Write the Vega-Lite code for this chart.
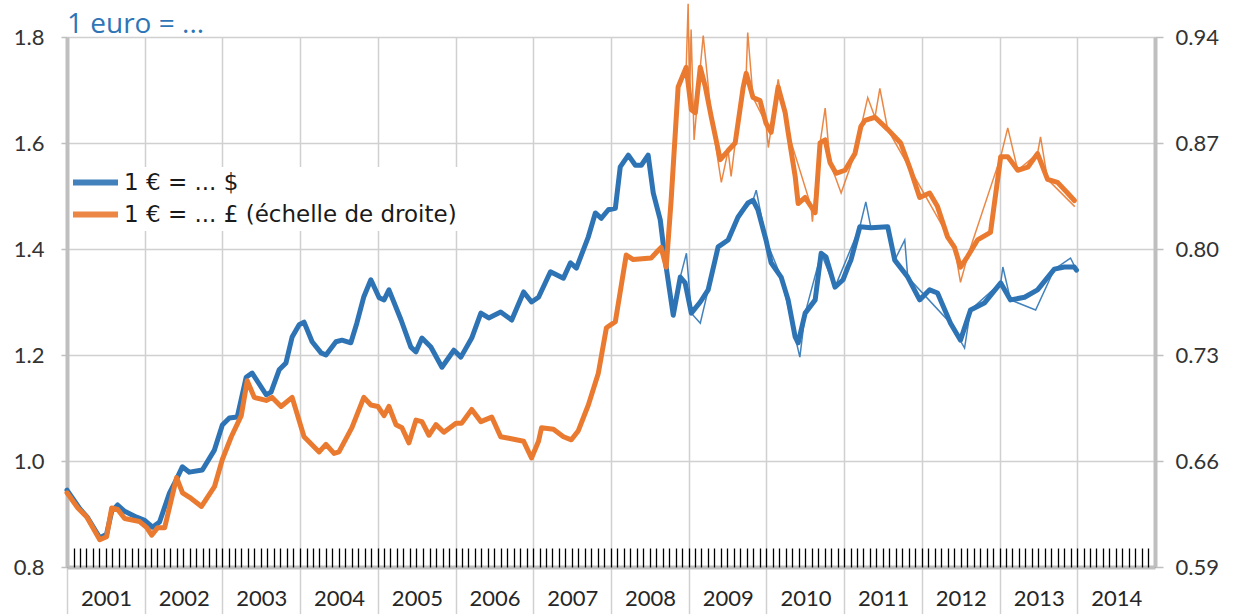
{
  "$schema": "https://vega.github.io/schema/vega-lite/v6.json",
  "width": 1088,
  "height": 530,
  "autosize": {"type": "none"},
  "padding": {"left": 67, "top": 37, "right": 80, "bottom": 47},
  "background": "white",
  "title": {"text": "1 euro = ...", "anchor": "start", "frame": "group", "color": "#2e75b6", "fontSize": 28, "fontWeight": "normal", "font": "Open Sans", "baseline": "alphabetic", "offset": -60},
  "config": {
    "view": {"stroke": null},
    "font": "Lato",
    "axis": {"labelFont": "Lato", "labelFontSize": 22, "labelColor": "#333333", "gridColor": "#d0d0d0", "gridWidth": 1.5, "domainColor": "#bfbfbf", "domainWidth": 4, "tickColor": "#bfbfbf", "tickWidth": 1.5, "title": null}
  },
  "datasets": {
    "moyenne": [
      {"date": "2001-01-01", "devise": "USD", "taux": 0.945},
      {"date": "2001-03-02", "devise": "USD", "taux": 0.91},
      {"date": "2001-04-08", "devise": "USD", "taux": 0.893},
      {"date": "2001-06-04", "devise": "USD", "taux": 0.855},
      {"date": "2001-07-06", "devise": "USD", "taux": 0.862},
      {"date": "2001-07-30", "devise": "USD", "taux": 0.905},
      {"date": "2001-08-27", "devise": "USD", "taux": 0.917},
      {"date": "2001-09-29", "devise": "USD", "taux": 0.905},
      {"date": "2001-11-24", "devise": "USD", "taux": 0.894},
      {"date": "2002-01-01", "devise": "USD", "taux": 0.888},
      {"date": "2002-02-07", "devise": "USD", "taux": 0.875},
      {"date": "2002-03-12", "devise": "USD", "taux": 0.885},
      {"date": "2002-04-28", "devise": "USD", "taux": 0.94},
      {"date": "2002-05-30", "devise": "USD", "taux": 0.965},
      {"date": "2002-06-27", "devise": "USD", "taux": 0.989},
      {"date": "2002-07-30", "devise": "USD", "taux": 0.979},
      {"date": "2002-09-29", "devise": "USD", "taux": 0.983},
      {"date": "2002-11-24", "devise": "USD", "taux": 1.02},
      {"date": "2003-01-01", "devise": "USD", "taux": 1.068},
      {"date": "2003-02-03", "devise": "USD", "taux": 1.081},
      {"date": "2003-03-12", "devise": "USD", "taux": 1.083},
      {"date": "2003-04-23", "devise": "USD", "taux": 1.158},
      {"date": "2003-05-21", "devise": "USD", "taux": 1.166},
      {"date": "2003-07-26", "devise": "USD", "taux": 1.125},
      {"date": "2003-08-18", "devise": "USD", "taux": 1.13},
      {"date": "2003-09-25", "devise": "USD", "taux": 1.172},
      {"date": "2003-10-27", "devise": "USD", "taux": 1.185},
      {"date": "2003-11-25", "devise": "USD", "taux": 1.234},
      {"date": "2003-12-28", "devise": "USD", "taux": 1.257},
      {"date": "2004-01-20", "devise": "USD", "taux": 1.262},
      {"date": "2004-02-27", "devise": "USD", "taux": 1.225},
      {"date": "2004-04-09", "devise": "USD", "taux": 1.204},
      {"date": "2004-05-02", "devise": "USD", "taux": 1.2},
      {"date": "2004-06-18", "devise": "USD", "taux": 1.225},
      {"date": "2004-07-16", "devise": "USD", "taux": 1.228},
      {"date": "2004-08-27", "devise": "USD", "taux": 1.223},
      {"date": "2004-09-24", "devise": "USD", "taux": 1.26},
      {"date": "2004-10-27", "devise": "USD", "taux": 1.31},
      {"date": "2004-11-29", "devise": "USD", "taux": 1.342},
      {"date": "2005-01-07", "devise": "USD", "taux": 1.308},
      {"date": "2005-01-30", "devise": "USD", "taux": 1.304},
      {"date": "2005-02-22", "devise": "USD", "taux": 1.323},
      {"date": "2005-04-20", "devise": "USD", "taux": 1.266},
      {"date": "2005-06-05", "devise": "USD", "taux": 1.215},
      {"date": "2005-06-29", "devise": "USD", "taux": 1.206},
      {"date": "2005-07-27", "devise": "USD", "taux": 1.232},
      {"date": "2005-09-07", "devise": "USD", "taux": 1.215},
      {"date": "2005-10-29", "devise": "USD", "taux": 1.177},
      {"date": "2005-12-24", "devise": "USD", "taux": 1.209},
      {"date": "2006-01-26", "devise": "USD", "taux": 1.196},
      {"date": "2006-03-18", "devise": "USD", "taux": 1.232},
      {"date": "2006-04-30", "devise": "USD", "taux": 1.279},
      {"date": "2006-06-06", "devise": "USD", "taux": 1.27},
      {"date": "2006-08-01", "devise": "USD", "taux": 1.281},
      {"date": "2006-09-22", "devise": "USD", "taux": 1.266},
      {"date": "2006-11-17", "devise": "USD", "taux": 1.319},
      {"date": "2006-12-24", "devise": "USD", "taux": 1.3},
      {"date": "2007-01-26", "devise": "USD", "taux": 1.309},
      {"date": "2007-03-23", "devise": "USD", "taux": 1.357},
      {"date": "2007-05-23", "devise": "USD", "taux": 1.345},
      {"date": "2007-06-25", "devise": "USD", "taux": 1.374},
      {"date": "2007-07-23", "devise": "USD", "taux": 1.364},
      {"date": "2007-09-17", "devise": "USD", "taux": 1.423},
      {"date": "2007-10-20", "devise": "USD", "taux": 1.468},
      {"date": "2007-11-17", "devise": "USD", "taux": 1.458},
      {"date": "2007-12-20", "devise": "USD", "taux": 1.474},
      {"date": "2008-01-22", "devise": "USD", "taux": 1.477},
      {"date": "2008-02-14", "devise": "USD", "taux": 1.555},
      {"date": "2008-03-23", "devise": "USD", "taux": 1.577},
      {"date": "2008-04-25", "devise": "USD", "taux": 1.558},
      {"date": "2008-05-23", "devise": "USD", "taux": 1.558},
      {"date": "2008-06-24", "devise": "USD", "taux": 1.577},
      {"date": "2008-07-18", "devise": "USD", "taux": 1.506},
      {"date": "2008-08-20", "devise": "USD", "taux": 1.455},
      {"date": "2008-09-12", "devise": "USD", "taux": 1.379},
      {"date": "2008-10-20", "devise": "USD", "taux": 1.275},
      {"date": "2008-11-22", "devise": "USD", "taux": 1.347},
      {"date": "2008-12-15", "devise": "USD", "taux": 1.336},
      {"date": "2009-01-13", "devise": "USD", "taux": 1.279},
      {"date": "2009-02-24", "devise": "USD", "taux": 1.3},
      {"date": "2009-04-02", "devise": "USD", "taux": 1.323},
      {"date": "2009-05-19", "devise": "USD", "taux": 1.404},
      {"date": "2009-07-05", "devise": "USD", "taux": 1.417},
      {"date": "2009-08-20", "devise": "USD", "taux": 1.46},
      {"date": "2009-10-06", "devise": "USD", "taux": 1.487},
      {"date": "2009-10-30", "devise": "USD", "taux": 1.492},
      {"date": "2009-11-22", "devise": "USD", "taux": 1.474},
      {"date": "2009-12-30", "devise": "USD", "taux": 1.417},
      {"date": "2010-01-23", "devise": "USD", "taux": 1.374},
      {"date": "2010-03-11", "devise": "USD", "taux": 1.347},
      {"date": "2010-04-13", "devise": "USD", "taux": 1.304},
      {"date": "2010-05-16", "devise": "USD", "taux": 1.234},
      {"date": "2010-05-30", "devise": "USD", "taux": 1.223},
      {"date": "2010-07-02", "devise": "USD", "taux": 1.279},
      {"date": "2010-08-18", "devise": "USD", "taux": 1.304},
      {"date": "2010-09-15", "devise": "USD", "taux": 1.392},
      {"date": "2010-10-08", "devise": "USD", "taux": 1.385},
      {"date": "2010-11-19", "devise": "USD", "taux": 1.328},
      {"date": "2010-12-27", "devise": "USD", "taux": 1.342},
      {"date": "2011-01-19", "devise": "USD", "taux": 1.366},
      {"date": "2011-02-02", "devise": "USD", "taux": 1.379},
      {"date": "2011-03-16", "devise": "USD", "taux": 1.442},
      {"date": "2011-05-07", "devise": "USD", "taux": 1.44},
      {"date": "2011-07-25", "devise": "USD", "taux": 1.442},
      {"date": "2011-08-27", "devise": "USD", "taux": 1.379},
      {"date": "2011-10-27", "devise": "USD", "taux": 1.347},
      {"date": "2011-12-22", "devise": "USD", "taux": 1.304},
      {"date": "2012-02-07", "devise": "USD", "taux": 1.323},
      {"date": "2012-03-15", "devise": "USD", "taux": 1.317},
      {"date": "2012-05-15", "devise": "USD", "taux": 1.26},
      {"date": "2012-07-01", "devise": "USD", "taux": 1.228},
      {"date": "2012-08-17", "devise": "USD", "taux": 1.285},
      {"date": "2012-10-21", "devise": "USD", "taux": 1.298},
      {"date": "2013-01-06", "devise": "USD", "taux": 1.336},
      {"date": "2013-02-21", "devise": "USD", "taux": 1.304},
      {"date": "2013-04-28", "devise": "USD", "taux": 1.309},
      {"date": "2013-06-28", "devise": "USD", "taux": 1.323},
      {"date": "2013-09-15", "devise": "USD", "taux": 1.362},
      {"date": "2013-11-01", "devise": "USD", "taux": 1.366},
      {"date": "2013-12-18", "devise": "USD", "taux": 1.366},
      {"date": "2013-12-28", "devise": "USD", "taux": 1.36},
      {"date": "2001-01-01", "devise": "GBP", "taux": 0.639},
      {"date": "2001-02-21", "devise": "GBP", "taux": 0.629},
      {"date": "2001-04-04", "devise": "GBP", "taux": 0.623},
      {"date": "2001-06-04", "devise": "GBP", "taux": 0.608},
      {"date": "2001-07-06", "devise": "GBP", "taux": 0.61},
      {"date": "2001-07-30", "devise": "GBP", "taux": 0.629},
      {"date": "2001-08-27", "devise": "GBP", "taux": 0.628},
      {"date": "2001-09-29", "devise": "GBP", "taux": 0.622},
      {"date": "2001-12-08", "devise": "GBP", "taux": 0.62},
      {"date": "2002-01-11", "devise": "GBP", "taux": 0.616},
      {"date": "2002-02-03", "devise": "GBP", "taux": 0.611},
      {"date": "2002-03-03", "devise": "GBP", "taux": 0.616},
      {"date": "2002-04-05", "devise": "GBP", "taux": 0.616},
      {"date": "2002-05-31", "devise": "GBP", "taux": 0.649},
      {"date": "2002-06-28", "devise": "GBP", "taux": 0.639},
      {"date": "2002-07-31", "devise": "GBP", "taux": 0.636},
      {"date": "2002-09-25", "devise": "GBP", "taux": 0.63},
      {"date": "2002-11-25", "devise": "GBP", "taux": 0.643},
      {"date": "2003-01-01", "devise": "GBP", "taux": 0.661},
      {"date": "2003-02-12", "devise": "GBP", "taux": 0.676},
      {"date": "2003-03-31", "devise": "GBP", "taux": 0.69},
      {"date": "2003-04-28", "devise": "GBP", "taux": 0.713},
      {"date": "2003-05-31", "devise": "GBP", "taux": 0.702},
      {"date": "2003-07-26", "devise": "GBP", "taux": 0.7},
      {"date": "2003-08-23", "devise": "GBP", "taux": 0.702},
      {"date": "2003-10-04", "devise": "GBP", "taux": 0.696},
      {"date": "2003-11-25", "devise": "GBP", "taux": 0.702},
      {"date": "2004-01-20", "devise": "GBP", "taux": 0.676},
      {"date": "2004-03-31", "devise": "GBP", "taux": 0.666},
      {"date": "2004-05-02", "devise": "GBP", "taux": 0.671},
      {"date": "2004-06-09", "devise": "GBP", "taux": 0.665},
      {"date": "2004-07-02", "devise": "GBP", "taux": 0.666},
      {"date": "2004-09-01", "devise": "GBP", "taux": 0.682},
      {"date": "2004-10-27", "devise": "GBP", "taux": 0.702},
      {"date": "2004-11-29", "devise": "GBP", "taux": 0.697},
      {"date": "2005-01-01", "devise": "GBP", "taux": 0.696},
      {"date": "2005-01-30", "devise": "GBP", "taux": 0.69},
      {"date": "2005-02-22", "devise": "GBP", "taux": 0.696},
      {"date": "2005-03-27", "devise": "GBP", "taux": 0.684},
      {"date": "2005-04-24", "devise": "GBP", "taux": 0.682},
      {"date": "2005-05-27", "devise": "GBP", "taux": 0.672},
      {"date": "2005-06-29", "devise": "GBP", "taux": 0.687},
      {"date": "2005-07-27", "devise": "GBP", "taux": 0.686},
      {"date": "2005-08-29", "devise": "GBP", "taux": 0.677},
      {"date": "2005-10-01", "devise": "GBP", "taux": 0.684},
      {"date": "2005-11-07", "devise": "GBP", "taux": 0.679},
      {"date": "2006-01-03", "devise": "GBP", "taux": 0.685},
      {"date": "2006-01-30", "devise": "GBP", "taux": 0.685},
      {"date": "2006-03-18", "devise": "GBP", "taux": 0.694},
      {"date": "2006-04-30", "devise": "GBP", "taux": 0.686},
      {"date": "2006-06-20", "devise": "GBP", "taux": 0.689},
      {"date": "2006-08-01", "devise": "GBP", "taux": 0.676},
      {"date": "2006-09-08", "devise": "GBP", "taux": 0.675},
      {"date": "2006-11-17", "devise": "GBP", "taux": 0.673},
      {"date": "2006-12-24", "devise": "GBP", "taux": 0.662},
      {"date": "2007-01-26", "devise": "GBP", "taux": 0.673},
      {"date": "2007-02-09", "devise": "GBP", "taux": 0.682},
      {"date": "2007-04-06", "devise": "GBP", "taux": 0.681},
      {"date": "2007-05-23", "devise": "GBP", "taux": 0.676},
      {"date": "2007-06-29", "devise": "GBP", "taux": 0.674},
      {"date": "2007-08-01", "devise": "GBP", "taux": 0.68},
      {"date": "2007-09-17", "devise": "GBP", "taux": 0.697},
      {"date": "2007-11-03", "devise": "GBP", "taux": 0.718},
      {"date": "2007-12-11", "devise": "GBP", "taux": 0.748},
      {"date": "2008-01-22", "devise": "GBP", "taux": 0.752},
      {"date": "2008-03-13", "devise": "GBP", "taux": 0.796},
      {"date": "2008-04-15", "devise": "GBP", "taux": 0.793},
      {"date": "2008-07-08", "devise": "GBP", "taux": 0.794},
      {"date": "2008-08-10", "devise": "GBP", "taux": 0.799},
      {"date": "2008-08-24", "devise": "GBP", "taux": 0.801},
      {"date": "2008-09-17", "devise": "GBP", "taux": 0.788},
      {"date": "2008-10-10", "devise": "GBP", "taux": 0.832},
      {"date": "2008-11-12", "devise": "GBP", "taux": 0.907},
      {"date": "2008-12-20", "devise": "GBP", "taux": 0.92},
      {"date": "2009-01-13", "devise": "GBP", "taux": 0.892},
      {"date": "2009-02-01", "devise": "GBP", "taux": 0.89},
      {"date": "2009-02-24", "devise": "GBP", "taux": 0.92},
      {"date": "2009-03-20", "devise": "GBP", "taux": 0.907},
      {"date": "2009-04-17", "devise": "GBP", "taux": 0.887},
      {"date": "2009-05-29", "devise": "GBP", "taux": 0.859},
      {"date": "2009-07-05", "devise": "GBP", "taux": 0.865},
      {"date": "2009-08-07", "devise": "GBP", "taux": 0.87},
      {"date": "2009-09-14", "devise": "GBP", "taux": 0.907},
      {"date": "2009-09-28", "devise": "GBP", "taux": 0.916},
      {"date": "2009-10-30", "devise": "GBP", "taux": 0.9},
      {"date": "2009-12-02", "devise": "GBP", "taux": 0.898},
      {"date": "2009-12-30", "devise": "GBP", "taux": 0.883},
      {"date": "2010-01-23", "devise": "GBP", "taux": 0.877},
      {"date": "2010-02-25", "devise": "GBP", "taux": 0.907},
      {"date": "2010-03-30", "devise": "GBP", "taux": 0.89},
      {"date": "2010-04-13", "devise": "GBP", "taux": 0.877},
      {"date": "2010-05-16", "devise": "GBP", "taux": 0.848},
      {"date": "2010-05-30", "devise": "GBP", "taux": 0.83},
      {"date": "2010-07-02", "devise": "GBP", "taux": 0.834},
      {"date": "2010-07-30", "devise": "GBP", "taux": 0.828},
      {"date": "2010-08-18", "devise": "GBP", "taux": 0.824},
      {"date": "2010-09-10", "devise": "GBP", "taux": 0.87},
      {"date": "2010-10-04", "devise": "GBP", "taux": 0.872},
      {"date": "2010-10-27", "devise": "GBP", "taux": 0.857},
      {"date": "2010-11-24", "devise": "GBP", "taux": 0.85},
      {"date": "2011-01-05", "devise": "GBP", "taux": 0.852},
      {"date": "2011-02-21", "devise": "GBP", "taux": 0.863},
      {"date": "2011-03-21", "devise": "GBP", "taux": 0.881},
      {"date": "2011-04-09", "devise": "GBP", "taux": 0.885},
      {"date": "2011-05-26", "devise": "GBP", "taux": 0.887},
      {"date": "2011-07-25", "devise": "GBP", "taux": 0.879},
      {"date": "2011-09-24", "devise": "GBP", "taux": 0.87},
      {"date": "2011-11-10", "devise": "GBP", "taux": 0.852},
      {"date": "2011-12-22", "devise": "GBP", "taux": 0.834},
      {"date": "2012-02-07", "devise": "GBP", "taux": 0.837},
      {"date": "2012-03-15", "devise": "GBP", "taux": 0.828},
      {"date": "2012-05-01", "devise": "GBP", "taux": 0.808},
      {"date": "2012-06-03", "devise": "GBP", "taux": 0.801},
      {"date": "2012-07-01", "devise": "GBP", "taux": 0.788},
      {"date": "2012-08-03", "devise": "GBP", "taux": 0.795},
      {"date": "2012-09-19", "devise": "GBP", "taux": 0.806},
      {"date": "2012-11-19", "devise": "GBP", "taux": 0.811},
      {"date": "2013-01-06", "devise": "GBP", "taux": 0.861},
      {"date": "2013-02-08", "devise": "GBP", "taux": 0.861},
      {"date": "2013-03-27", "devise": "GBP", "taux": 0.852},
      {"date": "2013-05-13", "devise": "GBP", "taux": 0.854},
      {"date": "2013-06-28", "devise": "GBP", "taux": 0.863},
      {"date": "2013-08-14", "devise": "GBP", "taux": 0.846},
      {"date": "2013-09-30", "devise": "GBP", "taux": 0.844},
      {"date": "2013-11-16", "devise": "GBP", "taux": 0.837},
      {"date": "2013-12-18", "devise": "GBP", "taux": 0.832}
    ],
    "quotidien": [
      {"date": "2008-11-22", "devise": "USD", "taux": 1.347},
      {"date": "2008-12-21", "devise": "USD", "taux": 1.392},
      {"date": "2009-01-13", "devise": "USD", "taux": 1.279},
      {"date": "2009-02-24", "devise": "USD", "taux": 1.26},
      {"date": "2009-04-02", "devise": "USD", "taux": 1.323},
      {"date": "2009-05-19", "devise": "USD", "taux": 1.404},
      {"date": "2009-07-05", "devise": "USD", "taux": 1.417},
      {"date": "2009-08-20", "devise": "USD", "taux": 1.46},
      {"date": "2009-10-30", "devise": "USD", "taux": 1.492},
      {"date": "2009-11-14", "devise": "USD", "taux": 1.511},
      {"date": "2009-12-30", "devise": "USD", "taux": 1.417},
      {"date": "2010-03-11", "devise": "USD", "taux": 1.347},
      {"date": "2010-05-16", "devise": "USD", "taux": 1.234},
      {"date": "2010-06-07", "devise": "USD", "taux": 1.196},
      {"date": "2010-07-02", "devise": "USD", "taux": 1.279},
      {"date": "2010-09-15", "devise": "USD", "taux": 1.392},
      {"date": "2010-11-19", "devise": "USD", "taux": 1.328},
      {"date": "2011-03-16", "devise": "USD", "taux": 1.442},
      {"date": "2011-04-13", "devise": "USD", "taux": 1.489},
      {"date": "2011-05-07", "devise": "USD", "taux": 1.44},
      {"date": "2011-07-25", "devise": "USD", "taux": 1.442},
      {"date": "2011-08-27", "devise": "USD", "taux": 1.379},
      {"date": "2011-10-13", "devise": "USD", "taux": 1.417},
      {"date": "2011-10-27", "devise": "USD", "taux": 1.347},
      {"date": "2012-05-15", "devise": "USD", "taux": 1.26},
      {"date": "2012-07-20", "devise": "USD", "taux": 1.213},
      {"date": "2012-08-17", "devise": "USD", "taux": 1.285},
      {"date": "2013-01-06", "devise": "USD", "taux": 1.336},
      {"date": "2013-01-16", "devise": "USD", "taux": 1.366},
      {"date": "2013-02-21", "devise": "USD", "taux": 1.304},
      {"date": "2013-06-19", "devise": "USD", "taux": 1.285},
      {"date": "2013-09-15", "devise": "USD", "taux": 1.362},
      {"date": "2013-11-30", "devise": "USD", "taux": 1.383},
      {"date": "2013-12-28", "devise": "USD", "taux": 1.36},
      {"date": "2008-11-12", "devise": "GBP", "taux": 0.907},
      {"date": "2008-12-20", "devise": "GBP", "taux": 0.92},
      {"date": "2008-12-29", "devise": "GBP", "taux": 0.962},
      {"date": "2009-01-05", "devise": "GBP", "taux": 0.9},
      {"date": "2009-01-12", "devise": "GBP", "taux": 0.945},
      {"date": "2009-01-26", "devise": "GBP", "taux": 0.872},
      {"date": "2009-02-24", "devise": "GBP", "taux": 0.92},
      {"date": "2009-03-10", "devise": "GBP", "taux": 0.941},
      {"date": "2009-04-17", "devise": "GBP", "taux": 0.887},
      {"date": "2009-06-03", "devise": "GBP", "taux": 0.844},
      {"date": "2009-07-05", "devise": "GBP", "taux": 0.865},
      {"date": "2009-07-19", "devise": "GBP", "taux": 0.848},
      {"date": "2009-08-07", "devise": "GBP", "taux": 0.87},
      {"date": "2009-09-28", "devise": "GBP", "taux": 0.916},
      {"date": "2009-10-05", "devise": "GBP", "taux": 0.943},
      {"date": "2009-10-30", "devise": "GBP", "taux": 0.9},
      {"date": "2009-12-30", "devise": "GBP", "taux": 0.883},
      {"date": "2010-01-10", "devise": "GBP", "taux": 0.867},
      {"date": "2010-02-25", "devise": "GBP", "taux": 0.912},
      {"date": "2010-04-13", "devise": "GBP", "taux": 0.877},
      {"date": "2010-07-30", "devise": "GBP", "taux": 0.828},
      {"date": "2010-08-05", "devise": "GBP", "taux": 0.818},
      {"date": "2010-09-10", "devise": "GBP", "taux": 0.87},
      {"date": "2010-10-04", "devise": "GBP", "taux": 0.893},
      {"date": "2010-10-27", "devise": "GBP", "taux": 0.857},
      {"date": "2010-12-18", "devise": "GBP", "taux": 0.837},
      {"date": "2011-02-21", "devise": "GBP", "taux": 0.863},
      {"date": "2011-04-22", "devise": "GBP", "taux": 0.9},
      {"date": "2011-05-26", "devise": "GBP", "taux": 0.887},
      {"date": "2011-06-18", "devise": "GBP", "taux": 0.906},
      {"date": "2011-07-25", "devise": "GBP", "taux": 0.879},
      {"date": "2012-06-03", "devise": "GBP", "taux": 0.801},
      {"date": "2012-07-01", "devise": "GBP", "taux": 0.778},
      {"date": "2012-08-03", "devise": "GBP", "taux": 0.795},
      {"date": "2013-01-06", "devise": "GBP", "taux": 0.861},
      {"date": "2013-02-08", "devise": "GBP", "taux": 0.88},
      {"date": "2013-03-27", "devise": "GBP", "taux": 0.852},
      {"date": "2013-06-28", "devise": "GBP", "taux": 0.863},
      {"date": "2013-07-12", "devise": "GBP", "taux": 0.874},
      {"date": "2013-08-14", "devise": "GBP", "taux": 0.846},
      {"date": "2013-12-20", "devise": "GBP", "taux": 0.828}
    ]
  },
  "data": {"name": "moyenne"},
  "layer": [
    {
      "transform": [{"filter": "datum.devise == 'USD'"}],
      "mark": {"type": "line", "strokeWidth": 5, "strokeJoin": "round", "strokeCap": "round"},
      "encoding": {
        "x": {"field": "date", "type": "temporal",
              "scale": {"type": "utc", "domain": [{"year": 2001, "month": 1, "date": 1, "utc": true}, {"year": 2015, "month": 1, "date": 1, "utc": true}]},
              "axis": {"orient": "bottom", "values": [{"year": 2001, "utc": true}, {"year": 2002, "utc": true}, {"year": 2003, "utc": true}, {"year": 2004, "utc": true}, {"year": 2005, "utc": true}, {"year": 2006, "utc": true}, {"year": 2007, "utc": true}, {"year": 2008, "utc": true}, {"year": 2009, "utc": true}, {"year": 2010, "utc": true}, {"year": 2011, "utc": true}, {"year": 2012, "utc": true}, {"year": 2013, "utc": true}, {"year": 2014, "utc": true}],
                       "format": "%Y", "grid": true, "tickSize": 47, "tickColor": "#d0d0d0", "labelOffset": 39, "labelPadding": -26, "labelBaseline": "top", "labelColor": "#262626", "labelFlush": false, "labelOverlap": false}},
        "y": {"field": "taux", "type": "quantitative", "scale": {"domain": [0.8, 1.8], "nice": false, "zero": false},
              "axis": {"orient": "left", "values": [0.8, 1.0, 1.2, 1.4, 1.6, 1.8], "format": ".1f", "grid": true, "tickSize": 6, "labelPadding": 17}},
        "color": {"field": "devise", "type": "nominal",
                  "scale": {"domain": ["USD", "GBP"], "range": ["#2e74b5", "#e97a30"]},
                  "legend": {"orient": "none", "legendX": 13, "legendY": 130, "padding": 4, "fillColor": "white", "title": null, "symbolType": "M-3,0H3", "symbolSize": 225, "symbolStrokeWidth": 6, "labelFontSize": 23, "labelFont": "DejaVu Sans", "labelColor": "#1a1a1a", "labelOffset": 17, "rowPadding": 7, "labelLimit": 500,
                             "labelExpr": "datum.label == 'USD' ? '1 € = ... $' : '1 € = ... £ (échelle de droite)'"}}
      }
    },
    {
      "data": {"name": "quotidien"},
      "transform": [{"filter": "datum.devise == 'USD'"}],
      "mark": {"type": "line", "strokeWidth": 1.5, "opacity": 0.9},
      "encoding": {
        "x": {"field": "date", "type": "temporal", "axis": null},
        "y": {"field": "taux", "type": "quantitative", "scale": {"domain": [0.8, 1.8], "nice": false, "zero": false}, "axis": null},
        "color": {"field": "devise", "type": "nominal"}
      }
    },
    {
      "transform": [{"filter": "datum.devise == 'GBP'"}],
      "mark": {"type": "line", "strokeWidth": 5, "strokeJoin": "round", "strokeCap": "round"},
      "encoding": {
        "x": {"field": "date", "type": "temporal",
              "axis": {"orient": "bottom", "tickCount": {"interval": "month", "step": 1}, "labels": false, "grid": false, "domain": false, "tickSize": -19, "tickColor": "#000000", "tickWidth": 1.3}},
        "y": {"field": "taux", "type": "quantitative", "scale": {"domain": [0.59, 0.94], "nice": false, "zero": false},
              "axis": {"orient": "right", "values": [0.59, 0.66, 0.73, 0.8, 0.87, 0.94], "format": ".2f", "grid": false, "tickSize": 8, "labelPadding": 12}},
        "color": {"field": "devise", "type": "nominal"}
      }
    },
    {
      "data": {"name": "quotidien"},
      "transform": [{"filter": "datum.devise == 'GBP'"}],
      "mark": {"type": "line", "strokeWidth": 1.5, "opacity": 0.9, "clip": false},
      "encoding": {
        "x": {"field": "date", "type": "temporal", "axis": null},
        "y": {"field": "taux", "type": "quantitative", "scale": {"domain": [0.59, 0.94], "nice": false, "zero": false}, "axis": null},
        "color": {"field": "devise", "type": "nominal"}
      }
    }
  ],
  "resolve": {"scale": {"y": "independent"}, "axis": {"x": "independent", "y": "independent"}}
}
